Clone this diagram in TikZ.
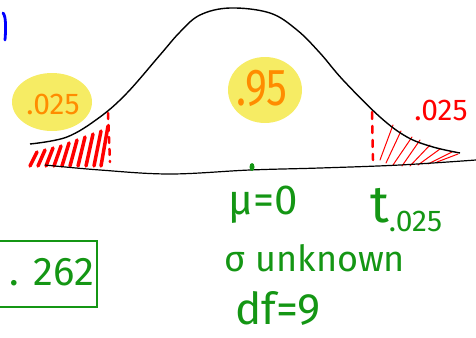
\documentclass[tikz,border=0pt]{standalone}
\usepackage{fontspec}
\setmainfont{Fira Sans}
\definecolor{hgreen}{RGB}{20,150,20}
\definecolor{horange}{RGB}{255,140,0}
\definecolor{hyellow}{RGB}{246,236,100}
\definecolor{hred}{RGB}{255,0,0}
\definecolor{hblue}{RGB}{0,0,255}
\begin{document}
\begin{tikzpicture}[x=1pt,y=-1pt,
  greentxt/.style={text=hgreen,inner sep=0pt},
  orangetxt/.style={text=horange,inner sep=0pt},
  hatch/.style={draw=hred,line width=3.5pt,line cap=round},
  thinhatch/.style={draw=hred,line width=1pt,line cap=round}]
\useasboundingbox (0,0) rectangle (476,337);
\clip (0,0) rectangle (476,337);
% blue mark
\draw[hblue,line width=2.8pt,line cap=round] (3,13) .. controls (6,16) and (6,28) .. (5,40);
% yellow blobs
\fill[hyellow] (52,102) ellipse [x radius=40,y radius=29];
\fill[hyellow] (265,90) ellipse [x radius=37,y radius=33];
% left hatching
\foreach \x/\t in {30/152,38/150,46/148,54/146,62/143,70/140,78/137,86/134,94/131,101/126}
  \draw[hatch] (\x,166) -- (\x+7,\t);
\draw[hred,line width=2.5pt,dash pattern=on 6pt off 6pt,line cap=round] (108,113) -- (110,162);
% right hatching
\draw[hred,line width=2.5pt,dash pattern=on 7pt off 7pt,line cap=round] (372,112) -- (373,160);
\foreach \a/\b/\c/\d in {380/160/393/125,386/163/401/131,393/165/412/137,402/166/420/140,410/166/430/145,418/165/440/149,428/164/452/152,437/162/458/154}
  \draw[thinhatch] (\a,\b) -- (\c,\d);
% bell curve
\draw[black,line width=1.4pt] plot[smooth,tension=0.6] coordinates {(30,144) (67,137) (100,117) (127,93) (160,55) (180,32) (200,15) (230,8) (270,13) (297,30) (320,53) (343,80) (380,117) (407,137) (433,147) (460,153)};
% baseline
\draw[black,line width=1.2pt] plot[smooth,tension=0.6] coordinates {(45,165) (100,170) (170,174) (250,170) (320,168) (400,165) (476,160)};
\fill[hgreen] (252,167) ellipse [x radius=2.5,y radius=4];
% texts
\node[orangetxt,font=\fontsize{30}{32}\selectfont] (p1) at (53,104) {.025};
\node[orangetxt,font=\fontsize{52}{54}\selectfont] (p2) at (262,88) {\scalebox{0.8}[1]{.95}};
\node[text=hred,inner sep=0pt,font=\fontsize{30}{32}\selectfont] (p3) at (441,110) {.025};
\node[greentxt,font=\fontsize{42}{44}\selectfont] (mu) at (263,205) {μ=0};
\node[greentxt,anchor=west] (tc) at (370,210) {\fontsize{52}{54}\selectfont t\raisebox{-0.3ex}{\fontsize{30}{32}\selectfont .025}};
\node[greentxt,font=\fontsize{36}{38}\selectfont] (sig) at (315,258) {σ unknown};
\node[greentxt,font=\fontsize{44}{46}\selectfont] (df) at (278,308) {df=9};
\node[greentxt,font=\fontsize{40}{42}\selectfont] (tv) at (52,272) {. 262};
\draw[hgreen,line width=2pt] (-5,241) rectangle (97,307);
\end{tikzpicture}
\end{document}
